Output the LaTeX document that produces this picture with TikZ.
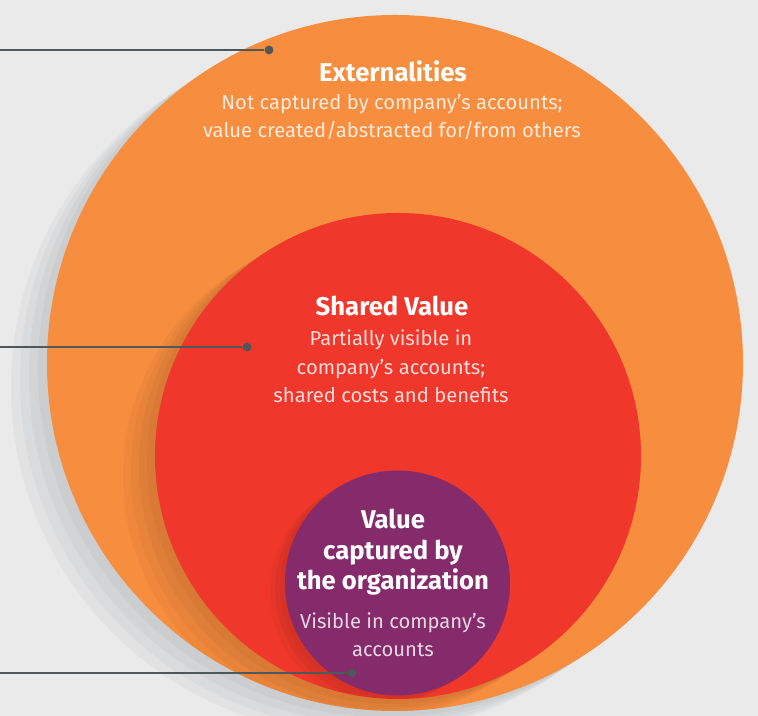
\documentclass[tikz,border=0pt]{standalone}
\usepackage{fontspec}
\setmainfont{Fira Sans}
\usetikzlibrary{positioning}
\definecolor{bggray}{HTML}{EAEAEA}
\definecolor{extorange}{HTML}{F78D3E}
\definecolor{sharedred}{HTML}{EF372B}
\definecolor{capturedpurple}{HTML}{852A6B}
\definecolor{leadergray}{HTML}{4F575A}
\definecolor{shadowink}{HTML}{283040}

\tikzset{
  headline/.style={anchor=base,align=center,text=white,
    font=\fontsize{14.6}{17.4}\selectfont\bfseries},
  subline/.style={anchor=base,align=center,text=white,text opacity=0.82,
    font=\fontsize{11.5}{16.4}\selectfont},
  pindot/.style={circle,fill=leadergray,minimum size=5pt,inner sep=0pt},
  leader/.style={leadergray,line width=1.1pt}
}

\begin{document}
\begin{tikzpicture}[x=0.2mm,y=-0.2mm]
  \useasboundingbox (0,0) rectangle (758,716);
  \fill[bggray] (0,0) rectangle (758,716);
  \clip (0,0) rectangle (758,716);
  % soft shadow of the outer ring
  \foreach \k in {1,...,4}
    \fill[shadowink,opacity=0.04] ({395-9*\k},{363+6*\k}) circle[radius=348];
  \node[circle,fill=extorange,minimum size=139.2mm,inner sep=0pt] (ext) at (395,363) {};
  \begin{scope}
    \clip (395,363) circle[radius=348];
    \foreach \k in {1,...,4}
      \fill[black,opacity=0.03] ({398-8*\k},{456+5*\k}) circle[radius=243];
  \end{scope}
  \node[circle,fill=sharedred,minimum size=97.2mm,inner sep=0pt] (shared) at (398,456) {};
  \begin{scope}
    \clip (398,456) circle[radius=243];
    \foreach \k in {1,...,3}
      \fill[black,opacity=0.035] ({397.5-5*\k},{583+3*\k}) circle[radius=112.5];
  \end{scope}
  \node[circle,fill=capturedpurple,minimum size=45mm,inner sep=0pt] (captured) at (397.5,583) {};

  % text blocks, anchored at the baseline of their last line
  \node[headline] (ext-title) at (393,82) {Externalities};
  \node[subline] (ext-body) at (392,138) {Not captured by company’s accounts;\\value created/abstracted for/from others};
  \node[headline] (shared-title) at (392,316) {Shared Value};
  \node[subline] (shared-body) at (391,403) {Partially visible in\\company’s accounts;\\shared costs and benefits};
  \node[headline] (captured-title) at (393,590) {Value\\captured by\\the organization};
  \node[subline] (captured-body) at (393,657) {Visible in company’s\\accounts};

  % leaders from the left margin
  \coordinate (ext-in) at (0,50);
  \coordinate (shared-in) at (0,347);
  \coordinate (captured-in) at (0,673);
  \node[pindot] (ext-pin) at (269,50) {};
  \node[pindot] (shared-pin) at (247,347) {};
  \node[pindot] (captured-pin) at (352,673) {};
  \draw[leader] (ext-in) -- (ext-pin);
  \draw[leader] (shared-in) -- (shared-pin);
  \draw[leader] (captured-in) -- (captured-pin);
\end{tikzpicture}
\end{document}
